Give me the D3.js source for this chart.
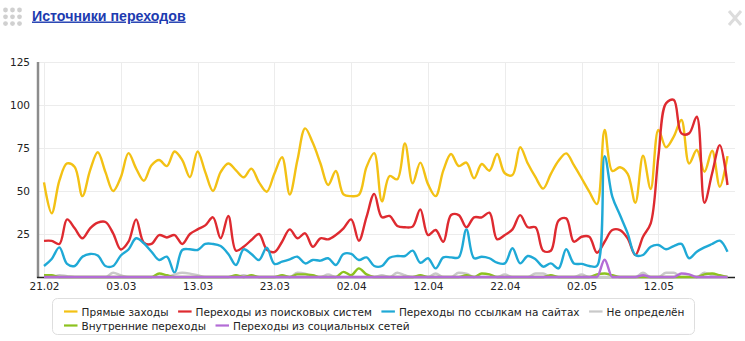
<!DOCTYPE html>
<html>
<head>
<meta charset="utf-8">
<script src="https://cdn.jsdelivr.net/npm/d3@7"></script>
<style>
  body { margin: 0; background: #fff; }
  svg { display: block; }
</style>
</head>
<body>
<svg id="chart" width="745" height="341"></svg>
<script>
// Daily visits by traffic source, 21.02 – 21.05
const startDay = "2013-02-21";
const dayCount = 90;
const tickLabels = ["21.02", "03.03", "13.03", "23.03", "02.04", "12.04", "22.04", "02.05", "12.05"];
const yTicks = [25, 50, 75, 100, 125];

const seriesNames = [
  "Прямые заходы",
  "Переходы из поисковых систем",
  "Переходы по ссылкам на сайтах",
  "Не определён",
  "Внутренние переходы",
  "Переходы из социальных сетей"
];
const seriesColors = ["#f3c114", "#de2a30", "#1fa9d6", "#c9c9c9", "#8cc21e", "#b36cd6"];

const direct = [
  55, 37, 56, 66, 64, 47, 62, 72.5, 61, 50,
  58, 72, 63, 56, 65, 68, 64.5, 73, 68, 58,
  73, 61, 50, 61, 66, 62, 58, 63, 55, 49.6,
  60, 69.6, 48, 68, 86.4, 78, 66, 53.5, 61.6, 48,
  47, 47.7, 64, 72, 44, 58.7, 56.8, 77.7, 54.5, 66.5,
  54, 47, 62, 71.5, 64.5, 66.5, 57.4, 65.7, 61.8, 71.5,
  60.3, 59.3, 75.4, 66, 58, 51.4, 60, 67.6, 71.9, 65,
  57.4, 49.6, 42.4, 85.5, 61.6, 63.8, 60, 43.2, 70.5, 51.2,
  85.5, 75.4, 81.6, 91.3, 66, 73.8, 61.2, 73.4, 52.5, 70.3
];
const search = [
  21, 21, 19.2, 33.5, 28.3, 22.5, 28.3, 31.6, 32, 25.4,
  16, 20.5, 33.5, 20, 19.2, 24.4, 23, 24.4, 19.2, 25,
  27.7, 30, 34.7, 22.5, 35.5, 15.3, 17.6, 21.5, 25, 16,
  14.5, 20.5, 27.7, 22.5, 25.4, 17.6, 22.5, 21.9, 24.4, 28.3,
  33.5, 21.1, 35, 48.3, 34.7, 35.5, 29.7, 28.9, 29.3, 39.3,
  24.4, 27.3, 20.5, 36, 36, 28.9, 34.7, 34.7, 37.4, 21.9,
  24.4, 27.7, 36, 28.9, 28.9, 15.3, 15.3, 32.8, 34.1, 20.5,
  23.4, 23.4, 14.1, 20.5, 27.3, 27.3, 22.5, 12.8, 23.4, 31.2,
  70, 101, 103, 83.5, 83.5, 93.2, 43.2, 60.3, 76.7, 53.5
];
const referral = [
  6.4, 10.5, 17.2, 7.6, 6.4, 11.8, 13.4, 12.5, 6.4, 6.4,
  12.5, 16, 22.5, 19.6, 14.7, 9.9, 11.8, 2.5, 15.7, 16.1,
  15.7, 19.2, 19.2, 18, 13.4, 7, 16.1, 13.4, 9.9, 17,
  7.6, 8.9, 10.3, 11.8, 7.9, 9.9, 9.5, 10.9, 7, 13.4,
  13.4, 9.9, 11.4, 6.4, 6.4, 11.2, 12.2, 12.2, 15.3, 8.3,
  10.9, 5, 11.4, 11.4, 11.4, 27.7, 10.9, 11.8, 10.9, 8.3,
  7.9, 16.7, 7.9, 12.2, 10.3, 6, 7.9, 5, 16.1, 7.9,
  7.6, 6.4, 6.4, 70.3, 46.7, 36, 25.4, 12.8, 12.8, 17.6,
  18.6, 16.1, 18, 19.2, 10.9, 14.7, 17.2, 19.2, 21.1, 14.7
];
const unknown = [
  0, 0, 1, 0.5, 0, 0, 0, 0, 0, 2.5,
  1, 0, 0, 0, 0, 0, 0, 1.5, 2.5, 2,
  1, 0, 0, 0, 0, 0, 1, 0, 0, 0,
  0, 0, 0, 2.5, 2, 0, 0, 1.5, 0, 0,
  0, 0, 0, 0, 1, 0, 2.5, 1, 0, 0,
  0, 2, 0, 0, 2.5, 2, 0, 0, 0, 0,
  1.5, 0, 0, 0, 2, 2, 0, 0, 0, 0,
  1.5, 0, 0, 0, 0, 0, 0, 0, 2.5, 0,
  0, 2.5, 2.5, 0, 0, 0, 2.5, 1, 0, 0
];
const internal = [
  1, 1, 0, 0, 0, 0, 0, 0, 0, 0,
  0, 0, 0, 0, 0, 2, 1, 0, 0, 0,
  0, 0, 0, 0, 0, 1, 0, 1, 0, 0,
  0, 1, 0, 1.5, 1.5, 1, 0, 0, 0, 3,
  1, 5, 1.5, 0, 0, 0, 0, 0, 0, 1,
  0, 0, 0, 0, 0, 1, 0, 2, 1.5, 0,
  0, 0, 0, 0, 0, 0, 1, 0, 0, 0,
  0, 0, 1.5, 2, 1, 0, 0, 0, 0, 0,
  0, 0, 0, 0, 0, 0, 1.5, 2, 1, 0
];
const social = [
  0, 0, 0, 0, 0, 0, 0, 0, 0, 0,
  0, 0, 0, 0, 0, 0, 0, 0, 0, 0,
  0, 0, 0, 0, 0, 0, 0, 0, 0, 0,
  0, 0, 0, 0, 0, 0, 0, 0, 0, 0,
  0, 0, 0, 0, 0, 0, 0, 0, 0, 0,
  0, 0, 0, 0, 0, 0, 0, 0, 0, 0,
  0, 0, 0, 0, 0, 0, 0, 0, 0, 0,
  0, 0, 0, 10, 0, 0, 0, 0, 1, 0,
  0, 0, 0, 2, 1.5, 0, 0, 0, 0, 0
];

const seriesValues = [direct, search, referral, unknown, internal, social];

const parseDay = d3.timeParse("%Y-%m-%d");
const day0 = parseDay(startDay);
const days = d3.timeDay.range(day0, d3.timeDay.offset(day0, dayCount));
const fmt = d3.timeFormat("%d.%m");
const tickDays = days.filter(d => tickLabels.includes(fmt(d)));

const svg = d3.select("#chart");
const font = "'DejaVu Sans', Verdana, sans-serif";

const plot = { left: 38, right: 735, top: 62, bottom: 277 };

const x = d3.scaleTime()
  .domain([days[0], days[days.length - 1]])
  .range([44, 727.5]);
const y = d3.scaleLinear()
  .domain([0, 125])
  .range([plot.bottom, plot.top]);

// Header: drag handle, title link, close cross
const handle = svg.append("g").attr("fill", "#d0d0d0");
[0, 1, 2].forEach(r => [0, 1, 2].forEach(c => {
  handle.append("circle").attr("cx", 5.5 + c * 7).attr("cy", 10 + r * 6.8).attr("r", 2.4);
}));
svg.append("text")
  .attr("x", 32).attr("y", 20.5)
  .attr("font-family", "'Liberation Sans', Arial, sans-serif")
  .attr("font-weight", "bold")
  .attr("font-size", 14.2)
  .attr("fill", "#1d3bb0")
  .attr("text-decoration", "underline")
  .text("Источники переходов");
svg.append("g")
  .attr("stroke", "#dcdcdc").attr("stroke-width", 3).attr("stroke-linecap", "butt")
  .call(g => {
    g.append("line").attr("x1", 729).attr("y1", 11).attr("x2", 741).attr("y2", 25);
    g.append("line").attr("x1", 741).attr("y1", 11).attr("x2", 729).attr("y2", 25);
  });

// Grid
const grid = svg.append("g").attr("stroke", "#ececec").attr("stroke-width", 1);
grid.selectAll("line.h").data(yTicks).join("line")
  .attr("x1", plot.left).attr("x2", plot.right)
  .attr("y1", d => Math.round(y(d)) + 0.5).attr("y2", d => Math.round(y(d)) + 0.5);
grid.selectAll("line.v").data(tickDays).join("line")
  .attr("x1", d => Math.round(x(d)) + 0.5).attr("x2", d => Math.round(x(d)) + 0.5)
  .attr("y1", plot.top).attr("y2", plot.bottom);

// Y axis
const yAxis = svg.append("g")
  .attr("transform", `translate(${plot.left},0)`)
  .call(d3.axisLeft(y).tickValues(yTicks).tickSize(0).tickPadding(8));
yAxis.select(".domain").remove();
yAxis.selectAll("text").attr("font-family", font).attr("font-size", 10.5).attr("fill", "#222");
svg.append("line")
  .attr("x1", plot.left).attr("x2", plot.left)
  .attr("y1", plot.top).attr("y2", plot.bottom + 1)
  .attr("stroke", "#8c8c8c").attr("stroke-width", 2.5);

// X axis
const xAxis = svg.append("g")
  .attr("transform", `translate(0,${plot.bottom})`)
  .call(d3.axisBottom(x).tickValues(tickDays).tickFormat(fmt).tickSize(0).tickPadding(6));
xAxis.select(".domain").remove();
xAxis.selectAll("text").attr("font-family", font).attr("font-size", 10.5).attr("fill", "#222");
svg.append("line")
  .attr("x1", plot.left - 1).attr("x2", plot.right)
  .attr("y1", plot.bottom + 0.5).attr("y2", plot.bottom + 0.5)
  .attr("stroke", "#222").attr("stroke-width", 1.6);

// Series lines: rounded splines for the large sources, shape-preserving for the near-zero ones
const lineFor = i => d3.line()
  .x((d, k) => x(days[k]))
  .y(d => y(d))
  .curve(i < 3 ? d3.curveCatmullRom.alpha(0.5) : d3.curveMonotoneX);

svg.append("g")
  .selectAll("path")
  .data(seriesValues)
  .join("path")
  .attr("fill", "none")
  .attr("stroke", (d, i) => seriesColors[i])
  .attr("stroke-width", 2.4)
  .attr("stroke-linejoin", "round")
  .attr("d", (d, i) => lineFor(i)(d));

// Legend
const legend = svg.append("g");
legend.append("rect")
  .attr("x", 52.5).attr("y", 298.5).attr("width", 642).attr("height", 36)
  .attr("rx", 5).attr("fill", "#fff").attr("stroke", "#dedede");
const rows = [311.5, 325.5];
const rowOrder = [[0, 1, 2, 3], [4, 5]];
rowOrder.forEach((items, r) => {
  let cx = 64;
  items.forEach(i => {
    const g = legend.append("g");
    g.append("line")
      .attr("x1", cx).attr("x2", cx + 13.5)
      .attr("y1", rows[r]).attr("y2", rows[r])
      .attr("stroke", seriesColors[i]).attr("stroke-width", 2.2);
    const t = g.append("text")
      .attr("x", cx + 17.5).attr("y", rows[r] + 4)
      .attr("font-family", font).attr("font-size", 10.5)
      .attr("fill", "#222")
      .text(seriesNames[i]);
    cx += 17.5 + t.node().getComputedTextLength() + 9.5;
  });
});
</script>
</body>
</html>
